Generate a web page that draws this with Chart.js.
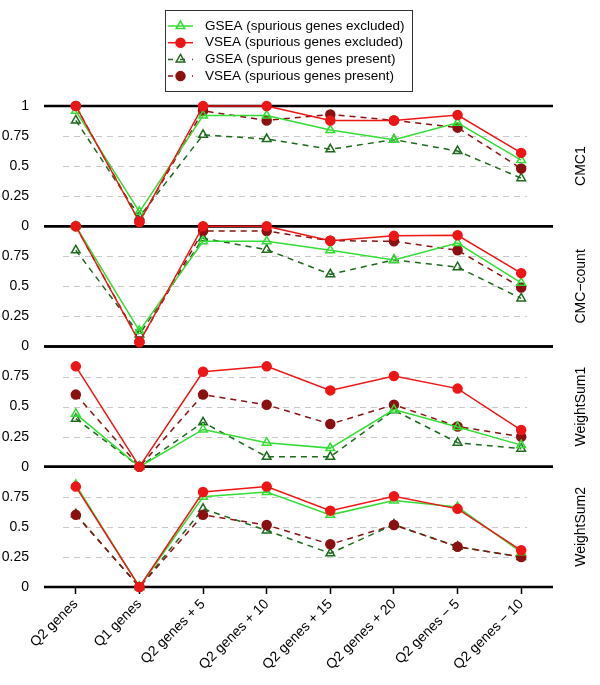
<!DOCTYPE html>
<html lang="en">
<head>
<meta charset="UTF-8">
<title>GSEA vs VSEA</title>
<script src="https://cdn.jsdelivr.net/npm/chart.js"></script>
<style>
  body { margin: 0; background: #fff; }
  #wrap { width: 600px; height: 685px; }
</style>
</head>
<body>
<div id="wrap"><canvas id="chart"></canvas></div>
<script>
const categories = ['Q2 genes', 'Q1 genes', 'Q2 genes + 5', 'Q2 genes + 10', 'Q2 genes + 15', 'Q2 genes + 20', 'Q2 genes \u2212 5', 'Q2 genes \u2212 10'];
const panels = ['CMC1', 'CMC\u2212count', 'WeightSum1', 'WeightSum2'];
const seriesNames = ['GSEA (spurious genes excluded)', 'VSEA (spurious genes excluded)', 'GSEA (spurious genes present)', 'VSEA (spurious genes present)'];
const yTicks = [0, 0.25, 0.5, 0.75, 1];

// rows = panels (CMC1, CMC-count, WeightSum1, WeightSum2)
const gseaExcluded = [
    [0.96, 0.12, 0.92, 0.92, 0.80, 0.72, 0.86, 0.55],
    [1.00, 0.13, 0.875, 0.875, 0.80, 0.72, 0.86, 0.53],
    [0.44, 0.00, 0.31, 0.20, 0.155, 0.475, 0.33, 0.18],
    [0.85, 0.00, 0.75, 0.79, 0.60, 0.72, 0.665, 0.29]
];
const vseaExcluded = [
    [1.00, 0.035, 1.00, 1.00, 0.88, 0.88, 0.925, 0.61],
    [1.00, 0.035, 1.00, 1.00, 0.88, 0.92, 0.925, 0.61],
    [0.835, 0.00, 0.79, 0.835, 0.635, 0.755, 0.65, 0.305],
    [0.835, 0.00, 0.79, 0.835, 0.635, 0.755, 0.65, 0.305]
];
const gseaPresent = [
    [0.88, 0.08, 0.76, 0.725, 0.64, 0.72, 0.625, 0.40],
    [0.80, 0.10, 0.90, 0.805, 0.60, 0.72, 0.66, 0.40],
    [0.40, 0.00, 0.37, 0.083, 0.083, 0.47, 0.20, 0.15],
    [0.605, 0.00, 0.65, 0.47, 0.28, 0.52, 0.335, 0.25]
];
const vseaPresent = [
    [1.00, 0.04, 0.96, 0.88, 0.93, 0.88, 0.82, 0.48],
    [1.00, 0.04, 0.96, 0.96, 0.88, 0.875, 0.80, 0.49],
    [0.60, 0.00, 0.60, 0.515, 0.355, 0.515, 0.335, 0.25],
    [0.60, 0.00, 0.60, 0.515, 0.355, 0.515, 0.335, 0.25]
];

const seriesData = [gseaExcluded, vseaExcluded, gseaPresent, vseaPresent];
const styles = [
    { color: '#33dd33', fill: 'rgba(255,255,255,0)', point: 'triangle', radius: 5, dash: [], order: 1 },
    { color: '#ee1515', fill: '#ee1515', point: 'circle', radius: 4.5, dash: [], order: 0 },
    { color: '#1d6a1d', fill: 'rgba(255,255,255,0)', point: 'triangle', radius: 5, dash: [6, 5], order: 3 },
    { color: '#8b1010', fill: '#8b1010', point: 'circle', radius: 4.5, dash: [6, 5], order: 2 }
];
const font = { family: 'Liberation Sans, Arial, sans-serif', size: 14 };

const datasets = [];
panels.forEach((p, pi) => {
    seriesNames.forEach((name, si) => {
        const st = styles[si];
        datasets.push({
            label: name,
            data: seriesData[si][pi],
            yAxisID: 'y' + pi,
            borderColor: st.color,
            borderWidth: 1.5,
            borderDash: st.dash,
            pointStyle: st.point,
            pointRadius: st.radius,
            pointBorderColor: st.color,
            pointBackgroundColor: st.fill,
            pointBorderWidth: 1.5,
            tension: 0,
            clip: false,
            order: st.order
        });
    });
});

const scales = {
    x: {
        type: 'category',
        labels: categories,
        offset: true,
        grid: { display: true, drawOnChartArea: false, drawTicks: true, tickLength: 7, tickColor: '#000', tickWidth: 1.5, offset: false },
        border: { display: false },
        ticks: { minRotation: 45, maxRotation: 45, autoSkip: false, color: '#000', font: font, padding: 2 },
        afterFit: s => { s.height = 98; }
    }
};
// left axes in one stack are laid out last-defined on top, so add them bottom panel first
for (let pi = panels.length - 1; pi >= 0; pi--) {
    scales['y' + pi] = {
        type: 'linear',
        position: 'left',
        stack: 'panels',
        stackWeight: 1,
        min: 0,
        max: 1,
        afterBuildTicks: s => { s.ticks = yTicks.map(v => ({ value: v })); },
        ticks: {
            color: '#000',
            font: font,
            padding: 7,
            autoSkip: false,
            callback: v => (v === 1 && pi > 0) ? '' : String(v)
        },
        grid: { display: false },
        border: { display: false },
        afterFit: s => { s.width = 44; }
    };
}

// panel lines, dashed grid, panel names and boxed legend
const decor = {
    id: 'decor',
    beforeDatasetsDraw(chart) {
        const ctx = chart.ctx;
        const area = chart.chartArea;
        ctx.save();
        panels.forEach((p, pi) => {
            const s = chart.scales['y' + pi];
            ctx.strokeStyle = '#c8c8c8';
            ctx.lineWidth = 1;
            ctx.setLineDash([6, 5]);
            [0.25, 0.5, 0.75].forEach(v => {
                const y = Math.round(s.getPixelForValue(v)) + 0.5;
                ctx.beginPath();
                ctx.moveTo(area.left + 19, y);
                ctx.lineTo(area.right - 26, y);
                ctx.stroke();
            });
            ctx.setLineDash([]);
            ctx.strokeStyle = '#000';
            ctx.lineWidth = 2.5;
            [0, 1].forEach(v => {
                const y = s.getPixelForValue(v);
                ctx.beginPath();
                ctx.moveTo(area.left, y);
                ctx.lineTo(area.right, y);
                ctx.stroke();
            });
        });
        ctx.restore();
    },
    afterDraw(chart) {
        const ctx = chart.ctx;
        const area = chart.chartArea;
        ctx.save();
        ctx.fillStyle = '#000';
        ctx.font = '14px Liberation Sans, Arial, sans-serif';
        ctx.textAlign = 'center';
        ctx.textBaseline = 'middle';
        panels.forEach((p, pi) => {
            const s = chart.scales['y' + pi];
            ctx.save();
            ctx.translate(area.right + 28, (s.top + s.bottom) / 2);
            ctx.rotate(-Math.PI / 2);
            ctx.fillText(p, 0, 0);
            ctx.restore();
        });

        // legend box
        ctx.strokeStyle = '#333';
        ctx.lineWidth = 1;
        ctx.strokeRect(165.5, 10.5, 247, 81);
        ctx.font = '13.5px Liberation Sans, Arial, sans-serif';
        ctx.textAlign = 'left';
        seriesNames.forEach((name, si) => {
            const st = styles[si];
            const y = 26 + si * 16.7;
            ctx.strokeStyle = st.color;
            ctx.lineWidth = 1.5;
            ctx.setLineDash(st.dash.length ? [5, 7] : []);
            ctx.beginPath();
            ctx.moveTo(168, y);
            ctx.lineTo(193, y);
            ctx.stroke();
            ctx.setLineDash([]);
            ctx.fillStyle = st.fill;
            Chart.helpers.drawPoint(ctx, {
                pointStyle: st.point, radius: st.radius, rotation: 0, borderWidth: 1.5
            }, 180.5, y);
            ctx.fillStyle = '#000';
            ctx.fillText(name, 205, y);
        });
        ctx.restore();
    }
};

new Chart(document.getElementById('chart'), {
    type: 'line',
    data: { datasets: datasets },
    options: {
        responsive: true,
        maintainAspectRatio: false,
        animation: false,
        layout: { padding: { top: 106, right: 47, left: 0, bottom: 0 } },
        plugins: { legend: { display: false }, tooltip: { enabled: false } },
        scales: scales
    },
    plugins: [decor]
});
</script>
</body>
</html>
